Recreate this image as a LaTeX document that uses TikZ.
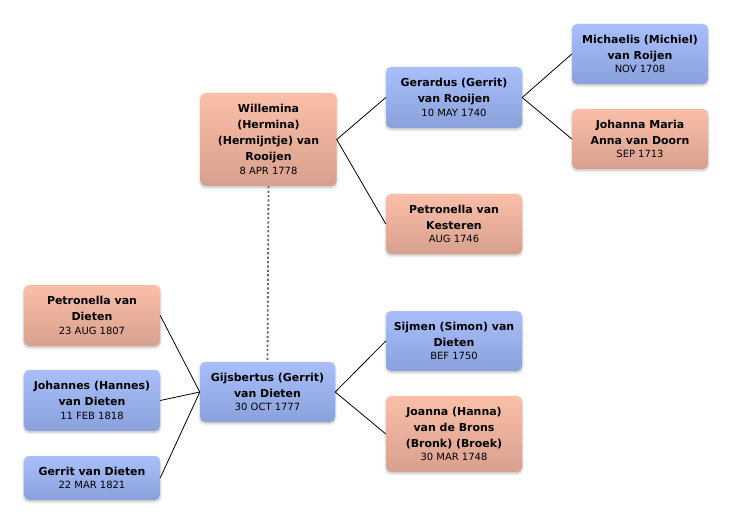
\documentclass[tikz,border=0pt]{standalone}
\usepackage{fontspec}
\setmainfont{DejaVu Sans}
\usetikzlibrary{shadows.blur}
\definecolor{btop}{HTML}{A8BFFB}
\definecolor{bbot}{HTML}{8BA1DB}
\definecolor{ptop}{HTML}{FBBFA8}
\definecolor{pbot}{HTML}{D7A08E}
\definecolor{dashgray}{HTML}{666666}
\tikzset{
 person/.style={rectangle, rounded corners=5bp, minimum width=136bp, inner sep=0pt, align=center,
   font=\fontsize{11}{16}\selectfont\bfseries,
   blur shadow={shadow xshift=0bp, shadow yshift=-1.5bp, shadow blur steps=6, shadow opacity=25, shadow blur radius=2.5bp}},
 male/.style={person, top color=btop, bottom color=bbot},
 female/.style={person, top color=ptop, bottom color=pbot},
 link/.style={draw=black, line width=0.8bp},
 spouse/.style={draw=dashgray, line width=1.8bp, dash pattern=on 2.2bp off 2.2bp},
}
\newcommand{\dt}[1]{\\[-2.5pt]{\mdseries\fontsize{10}{12}\selectfont #1}}
\begin{document}
\begin{tikzpicture}[x=1bp,y=-1bp]
\useasboundingbox (0,0) rectangle (732,524);
\node[female, minimum height=93bp] (wil) at (268.5,139.5) {Willemina\\(Hermina)\\(Hermijntje) van\\Rooijen\dt{8 APR 1778}};
\node[male, minimum height=61bp] (ger) at (454,97.5) {Gerardus (Gerrit)\\van Rooijen\dt{10 MAY 1740}};
\node[male, minimum height=60bp] (mic) at (640,54) {Michaelis (Michiel)\\van Roijen\dt{NOV 1708}};
\node[female, minimum height=60bp] (joh) at (640,139) {Johanna Maria\\Anna van Doorn\dt{SEP 1713}};
\node[female, minimum height=60bp] (pek) at (454,224) {Petronella van\\Kesteren\dt{AUG 1746}};
\node[male, minimum height=60bp, minimum width=135bp] (gij) at (267.5,392) {Gijsbertus (Gerrit)\\van Dieten\dt{30 OCT 1777}};
\node[female, minimum height=61bp] (ped) at (92,315.5) {Petronella van\\Dieten\dt{23 AUG 1807}};
\node[male, minimum height=61bp] (jhs) at (92,400.5) {Johannes (Hannes)\\van Dieten\dt{11 FEB 1818}};
\node[male, minimum height=44bp] (grt) at (92,478) {Gerrit van Dieten\dt{22 MAR 1821}};
\node[male, minimum height=60bp] (sij) at (454,341) {Sijmen (Simon) van\\Dieten\dt{BEF 1750}};
\node[female, minimum height=76bp] (joa) at (454,434) {Joanna (Hanna)\\van de Brons\\(Bronk) (Broek)\dt{30 MAR 1748}};
\draw[spouse] (wil.south) -- (gij.north);
\draw[link] (wil.east) -- (ger.west);
\draw[link] (wil.east) -- (pek.west);
\draw[link] (ger.east) -- (mic.west);
\draw[link] (ger.east) -- (joh.west);
\draw[link] (gij.east) -- (sij.west);
\draw[link] (gij.east) -- (joa.west);
\draw[link] (gij.west) -- (ped.east);
\draw[link] (gij.west) -- (jhs.east);
\draw[link] (gij.west) -- (grt.east);
\end{tikzpicture}
\end{document}
